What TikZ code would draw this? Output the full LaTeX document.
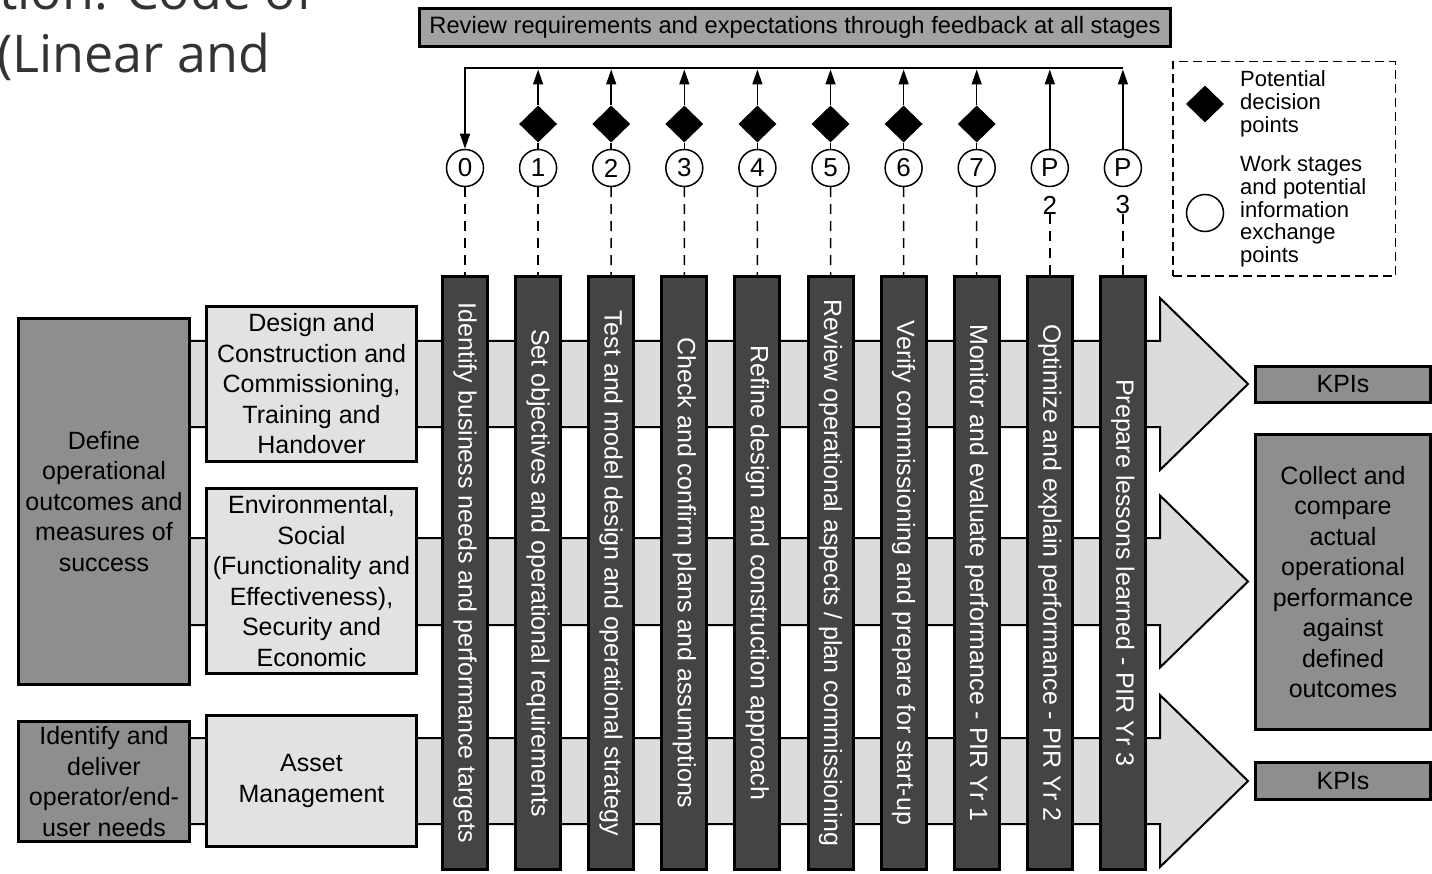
\documentclass[tikz,border=0pt]{standalone}
\usepackage{fontspec}
\setmainfont{Liberation Sans}
\newfontfamily\titlefont{Open Sans}
\usetikzlibrary{arrows.meta,shapes.geometric}

\definecolor{bannergray}{HTML}{A2A2A2}
\definecolor{boxdark}{HTML}{8E8E8E}
\definecolor{boxlight}{HTML}{E2E2E2}
\definecolor{bandgray}{HTML}{DCDCDC}
\definecolor{bardark}{HTML}{444444}
\definecolor{titlegray}{HTML}{333333}

\begin{document}
\begin{tikzpicture}[x=1pt,y=-1pt,
  box/.style={draw=black, line width=3pt, inner sep=0pt, align=center,
    font=\fontsize{25}{30.5}\selectfont, text=black},
  darkbox/.style={box, fill=boxdark},
  lightbox/.style={box, fill=boxlight},
  stagebar/.style={draw=black, line width=3pt, fill=bardark, rotate=-90,
    minimum width=593pt, minimum height=45pt, inner sep=0pt, text=white,
    font=\fontsize{25}{30}\selectfont},
  stagecircle/.style={circle, draw=black, fill=white, line width=1.5pt,
    minimum size=37pt, inner sep=0pt, font=\fontsize{26}{26}\selectfont},
  decision/.style={diamond, fill=black, minimum width=38pt, minimum height=37pt, inner sep=0pt},
  band/.style={draw=black, line width=2pt, fill=bandgray, line join=miter},
  link/.style={line width=1.5pt, draw=black},
  uparrow/.style={link, -{Triangle[length=15pt,width=10pt]}},
  infodash/.style={link, dash pattern=on 10pt off 7pt},
  legendtext/.style={anchor=west, align=left, inner sep=0pt,
    font=\fontsize{22}{22.7}\selectfont},
  headtext/.style={inner sep=0pt, text=titlegray,
    font=\titlefont\fontsize{52}{60}\selectfont}
]
\useasboundingbox (0,0) rectangle (1432,874);
\clip (0,0) rectangle (1432,874);

% heading fragment in the corner
\node[headtext, anchor=base east] (head1) at (314,10) {tion: Code of};
\node[headtext, anchor=base west] (head2) at (-3,73) {(Linear and};

% feedback banner
\node[box, fill=bannergray, line width=2.5pt, minimum width=751pt, minimum height=38pt,
  font=\fontsize{23.7}{26}\selectfont] (banner) at (795,27.5)
  {Review requirements and expectations through feedback at all stages};

% broad flow arrows behind the stage bars
\foreach \ya/\yb in {341/427, 538/625, 738/824} {
  \pgfmathsetmacro\ym{(\ya+\yb)/2}
  \draw[band] (150,\ya) -- (1160,\ya) -- (1160,\ym-86) -- (1248,\ym)
    -- (1160,\ym+86) -- (1160,\yb) -- (150,\yb) -- cycle;
}

% left-hand boxes
\node[darkbox, minimum width=171pt, minimum height=366pt] (define) at (104,501.5)
  {Define\\operational\\outcomes and\\measures of\\success};
\node[darkbox, minimum width=171pt, minimum height=120pt] (identify) at (104,781.5)
  {Identify and\\deliver\\operator/end-\\user needs};
\node[lightbox, minimum width=210pt, minimum height=155pt] (design) at (311.5,384)
  {Design and\\Construction and\\Commissioning,\\Training and\\Handover};
\node[lightbox, minimum width=210pt, minimum height=185pt] (environ) at (311.5,581)
  {Environmental,\\Social\\(Functionality and\\Effectiveness),\\Security and\\Economic};
\node[lightbox, minimum width=210pt, minimum height=131pt] (asset) at (311.5,781)
  {Asset\\Management};

% right-hand boxes
\node[darkbox, minimum width=175pt, minimum height=36pt] (kpitop) at (1343,384.5) {KPIs};
\node[darkbox, minimum width=175pt, minimum height=295pt] (collect) at (1343,582)
  {Collect and\\compare\\actual\\operational\\performance\\against\\defined\\outcomes};
\node[darkbox, minimum width=175pt, minimum height=37pt] (kpibot) at (1343,781) {KPIs};

% stage bars
\node[stagebar] (b0) at (465.0,573) {Identify business needs and performance targets};
\node[stagebar] (b1) at (538.1,573) {Set objectives and operational requirements};
\node[stagebar] (b2) at (611.2,573) {Test and model design and operational strategy};
\node[stagebar] (b3) at (684.3,573) {Check and confirm plans and assumptions};
\node[stagebar] (b4) at (757.4,573) {Refine design and construction approach};
\node[stagebar] (b5) at (830.5,573) {Review operational aspects / plan commissioning};
\node[stagebar] (b6) at (903.6,573) {Verify commissioning and prepare for start-up};
\node[stagebar] (b7) at (976.7,573) {Monitor and evaluate performance - PIR Yr 1};
\node[stagebar] (b8) at (1049.8,573) {Optimize and explain performance - PIR Yr 2};
\node[stagebar] (b9) at (1122.9,573) {Prepare lessons learned - PIR Yr 3};

% work stage circles
\foreach \i/\lab in {0/0,1/1,2/2,3/3,4/4,5/5,6/6,7/7,8/P,9/P}
  \node[stagecircle] (c\i) at ({465+73.1*\i},168) {\lab};
\node[inner sep=0pt, font=\fontsize{26}{26}\selectfont] (n8) at (1049.8,205) {2};
\node[inner sep=0pt, font=\fontsize{26}{26}\selectfont] (n9) at (1122.9,205) {3};

% arrow ends on the feedback line
\foreach \i in {1,...,9}
  \coordinate (t\i) at ({465+73.1*\i},69.5);
\coordinate (fbR) at (1122.9,68);

% feedback loop back to stage 0
\draw[link, -{Triangle[length=15pt,width=10pt]}] (fbR) -| (c0.north);

% decision diamonds and upward links
\foreach \i in {1,...,7} {
  \node[decision] (d\i) at ({465+73.1*\i},124) {};
  \draw[link] (c\i) -- (d\i);
  \draw[uparrow] (d\i) -- (t\i);
}
\draw[uparrow] (c8) -- (t8);
\draw[uparrow] (c9) -- (t9);

% information exchange links down to the bars
\foreach \i in {0,...,7}
  \draw[infodash] (c\i) -- (b\i.west);
\draw[infodash] (n8) -- (b8.west);
\draw[infodash] (n9) -- (b9.west);

% legend
\node[draw=black, line width=1.5pt, dash pattern=on 9pt off 5pt,
  minimum width=222.5pt, minimum height=214.5pt, inner sep=0pt] (legend) at (1284,169) {};
\node[decision] (legdec) at (1205,104) {};
\node[stagecircle] (legcirc) at (1205,213) {};
\node[legendtext] (legdectext) at (1240,104) {Potential\\decision\\points};
\node[legendtext] (legcirctext) at (1240,211.5)
  {Work stages\\and potential\\information\\exchange\\points};
\end{tikzpicture}
\end{document}
